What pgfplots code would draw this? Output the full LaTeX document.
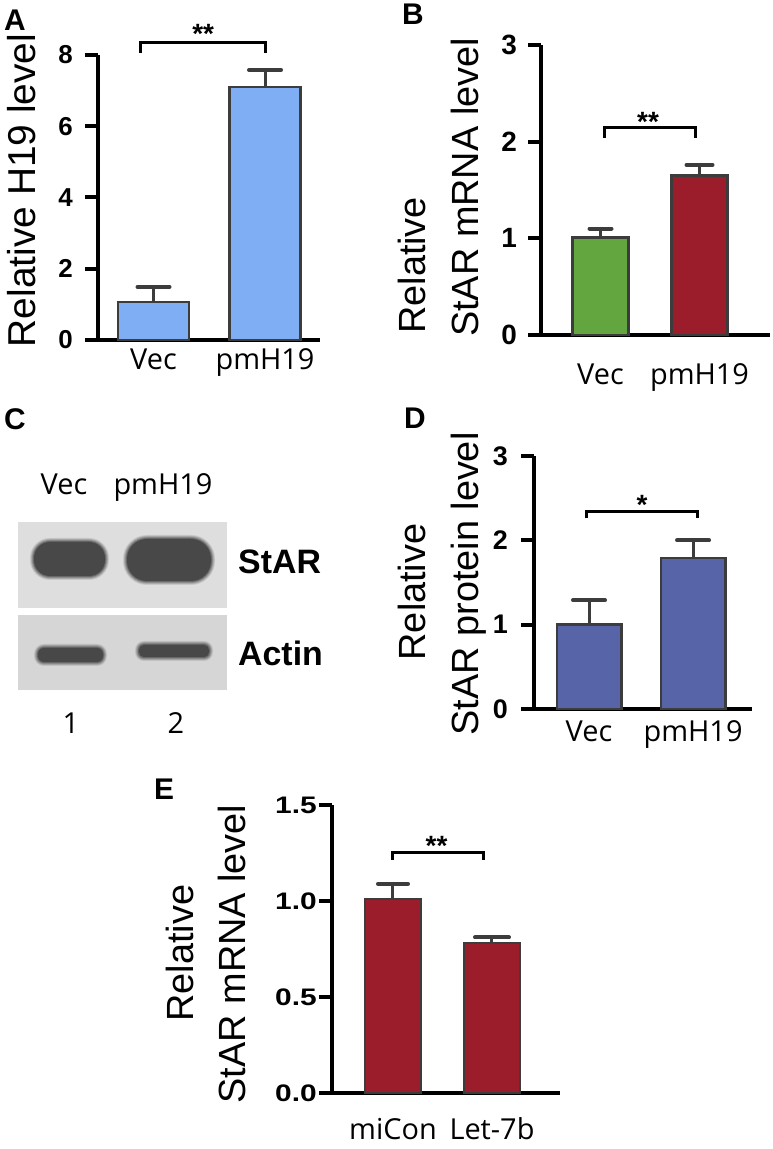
\documentclass[border=0pt]{standalone}
\usepackage{pgfplots}
\pgfplotsset{compat=1.18}
\usepackage{fontspec}
\setmainfont{Liberation Sans}
\newfontfamily\lab{Open Sans}
\newcommand\fs[1]{\fontsize{#1}{#1}\selectfont}

\definecolor{barA}{RGB}{127,174,245}
\definecolor{barGreen}{RGB}{99,165,62}
\definecolor{barRed}{RGB}{155,29,43}
\definecolor{barBlue}{RGB}{88,100,168}
\definecolor{edge}{RGB}{60,60,60}
\definecolor{boxU}{RGB}{222,222,222}
\definecolor{boxL}{RGB}{214,214,214}
\definecolor{band}{RGB}{72,72,72}

\pgfplotsset{
  panel/.style={
    scale only axis,
    axis x line=bottom, axis y line=left,
    axis line style={-, line width=4bp, black},
    tick align=outside,
    major tick length=13bp,
    ytick style={line width=4bp, black},
    xtick style={draw=none},
    xtick={0,1},
    ymin=0,
    clip=false,
    ybar, bar shift=0pt,
    /pgf/number format/assume math mode=true,
    yticklabel style={anchor=east, inner sep=0pt},
    xticklabel style={font=\lab\fs{29}, anchor=base, inner sep=0pt},
  },
  eb/.style={draw=edge, line width=2.5bp,
    error bars/.cd, y dir=plus, y explicit, error mark=|,
    error bar style={line width=3bp, color=edge},
    error mark options={line width=4bp, mark size=#1, color=edge, line cap=round}},
}
% soft blot band: #1 background colour, #2 x0, #3 y0, #4 x1, #5 y1, #6 corner radius
\newcommand\softband[6]{%
  \fill[band!15!#1, rounded corners=#6bp+4bp] (axis cs:#2-4,#3-4) rectangle (axis cs:#4+4,#5+4);
  \fill[band!35!#1, rounded corners=#6bp+3bp] (axis cs:#2-3,#3-3) rectangle (axis cs:#4+3,#5+3);
  \fill[band!55!#1, rounded corners=#6bp+2bp] (axis cs:#2-2,#3-2) rectangle (axis cs:#4+2,#5+2);
  \fill[band!78!#1, rounded corners=#6bp+1bp] (axis cs:#2-1,#3-1) rectangle (axis cs:#4+1,#5+1);
  \fill[band, rounded corners=#6bp] (axis cs:#2,#3) rectangle (axis cs:#4,#5);
}

\begin{document}
\begin{tikzpicture}[x=1bp,y=1bp]
\path[use as bounding box] (0,0) rectangle (773,1149);

% ---------------- Panel A ----------------
\begin{axis}[panel, at={(98bp,809bp)}, anchor=south west,
  width=222bp, height=285bp,
  xmin=-0.498, xmax=1.493, ymax=8,
  ytick={0,2,4,6,8}, bar width=0.637,
  xticklabels={Vec,pmH19},
  yticklabel style={font=\fs{26}\bfseries, xshift=-12bp},
  xticklabel style={yshift=-17bp}]
\addplot[fill=barA, eb=16bp] coordinates {(0,1.07) +- (0,0.42)};
\addplot[fill=barA, eb=16bp] coordinates {(1,7.10) +- (0,0.48)};
\draw[line width=3bp] (axis cs:-0.121,8.06) -- (axis cs:-0.121,8.34) -- (axis cs:1.0,8.34) -- (axis cs:1.0,8.06);
\node[font=\fs{28}\bfseries, anchor=base, yshift=-16bp] at (axis cs:0.445,8.76) {**};
\end{axis}

% ---------------- Panel B ----------------
\begin{axis}[panel, at={(541bp,814bp)}, anchor=south west,
  width=229bp, height=290bp,
  xmin=-0.601, xmax=1.712, ymax=3,
  ytick={0,1,2,3}, bar width=0.566,
  xticklabels={Vec,pmH19},
  yticklabel style={font=\fs{28}\bfseries, xshift=-11bp},
  xticklabel style={yshift=-37bp}]
\addplot[fill=barGreen, eb=11bp] coordinates {(0,1.01) +- (0,0.09)};
\addplot[fill=barRed, eb=13bp] coordinates {(1,1.65) +- (0,0.11)};
\draw[line width=3bp] (axis cs:0.045,2.04) -- (axis cs:0.045,2.15) -- (axis cs:0.955,2.15) -- (axis cs:0.955,2.04);
\node[font=\fs{28}\bfseries, anchor=base, yshift=-16bp] at (axis cs:0.48,2.27) {**};
\end{axis}

% ---------------- Panel C (blot) ----------------
\begin{axis}[at={(18bp,459bp)}, anchor=south west, scale only axis,
  width=209bp, height=168bp, hide axis, clip=false,
  xmin=0, xmax=209, ymin=0, ymax=168]
\fill[boxU] (axis cs:0,82) rectangle (axis cs:209,168);
\fill[boxL] (axis cs:0,0) rectangle (axis cs:209,75);
\softband{boxU}{16}{114}{87}{148}{16}
\softband{boxU}{109}{109}{193}{151}{20}
\softband{boxL}{20}{28}{85}{42}{6}
\softband{boxL}{121}{33}{191}{45}{5}
\end{axis}
\node[font=\lab\fs{29}, anchor=base, inner sep=0pt] at (64bp,654bp) {Vec};
\node[font=\lab\fs{29}, anchor=base, inner sep=0pt] at (163bp,654bp) {pmH19};
\node[font=\fs{34}\bfseries, anchor=west, inner sep=0pt] at (238bp,587bp) {StAR};
\node[font=\fs{34}\bfseries, anchor=west, inner sep=0pt] at (238bp,496bp) {Actin};
\node[font=\lab\fs{29}, inner sep=0pt] at (71bp,426bp) {1};
\node[font=\lab\fs{29}, inner sep=0pt] at (176bp,426bp) {2};

% ---------------- Panel D ----------------
\begin{axis}[panel, at={(534bp,440bp)}, anchor=south west,
  width=218bp, height=253bp,
  xmin=-0.529, xmax=1.567, ymax=3,
  ytick={0,1,2,3}, bar width=0.62,
  xticklabels={Vec,pmH19},
  yticklabel style={font=\fs{27}\bfseries, xshift=-13bp},
  xticklabel style={yshift=-20bp}]
\addplot[fill=barBlue, eb=16bp] coordinates {(0,1.00) +- (0,0.29)};
\addplot[fill=barBlue, eb=16bp] coordinates {(1,1.79) +- (0,0.21)};
\draw[line width=3bp] (axis cs:-0.02,2.26) -- (axis cs:-0.02,2.34) -- (axis cs:1.04,2.34) -- (axis cs:1.04,2.26);
\node[font=\fs{28}\bfseries, anchor=base, yshift=-16bp] at (axis cs:0.51,2.5) {*};
\end{axis}

% ---------------- Panel E ----------------
\begin{axis}[panel, at={(332bp,56bp)}, anchor=south west,
  width=228bp, height=288bp,
  xmin=-0.616, xmax=1.687, ymax=1.5,
  ytick={0,0.5,1,1.5}, bar width=0.566,
  xticklabels={miCon,Let-7b},
  yticklabel style={font=\fs{24}\bfseries, xshift=-2bp, xscale=1.25,
    /pgf/number format/.cd, fixed, fixed zerofill, precision=1},
  xticklabel style={yshift=-33bp}]
\addplot[fill=barRed, eb=15bp] coordinates {(0,1.01) +- (0,0.08)};
\addplot[fill=barRed, eb=17bp] coordinates {(1,0.78) +- (0,0.03)};
\draw[line width=3bp] (axis cs:0,1.215) -- (axis cs:0,1.255) -- (axis cs:0.91,1.255) -- (axis cs:0.91,1.215);
\node[font=\fs{28}\bfseries, anchor=base, yshift=-16bp] at (axis cs:0.44,1.32) {**};
\end{axis}

% ---------------- Labels ----------------
\node[font=\fs{30}\bfseries, inner sep=0pt] at (15bp,1129bp) {A};
\node[font=\fs{30}\bfseries, inner sep=0pt] at (413bp,1135bp) {B};
\node[font=\fs{30}\bfseries, inner sep=0pt] at (15bp,730bp) {C};
\node[font=\fs{30}\bfseries, inner sep=0pt] at (415bp,731bp) {D};
\node[font=\fs{30}\bfseries, inner sep=0pt] at (164bp,360bp) {E};

\node[font=\fs{39}, rotate=90, anchor=base, inner sep=0pt] at (35bp,958.5bp) {Relative H19 level};

\node[font=\fs{38}, rotate=90, anchor=base west, inner sep=0pt] at (425bp,815bp) {Relative};
\node[font=\fs{38}, rotate=90, anchor=base west, inner sep=0pt] at (478bp,812bp) {StAR mRNA level};

\node[font=\fs{38}, rotate=90, anchor=base, inner sep=0pt] at (425bp,557bp) {Relative};
\node[font=\fs{38}, rotate=90, anchor=base, inner sep=0pt] at (478bp,565bp) {StAR protein level};

\node[font=\fs{38}, rotate=90, anchor=base, inner sep=0pt] at (193bp,196bp) {Relative};
\node[font=\fs{38}, rotate=90, anchor=base, inner sep=0pt] at (245bp,195bp) {StAR mRNA level};
\end{tikzpicture}
\end{document}
